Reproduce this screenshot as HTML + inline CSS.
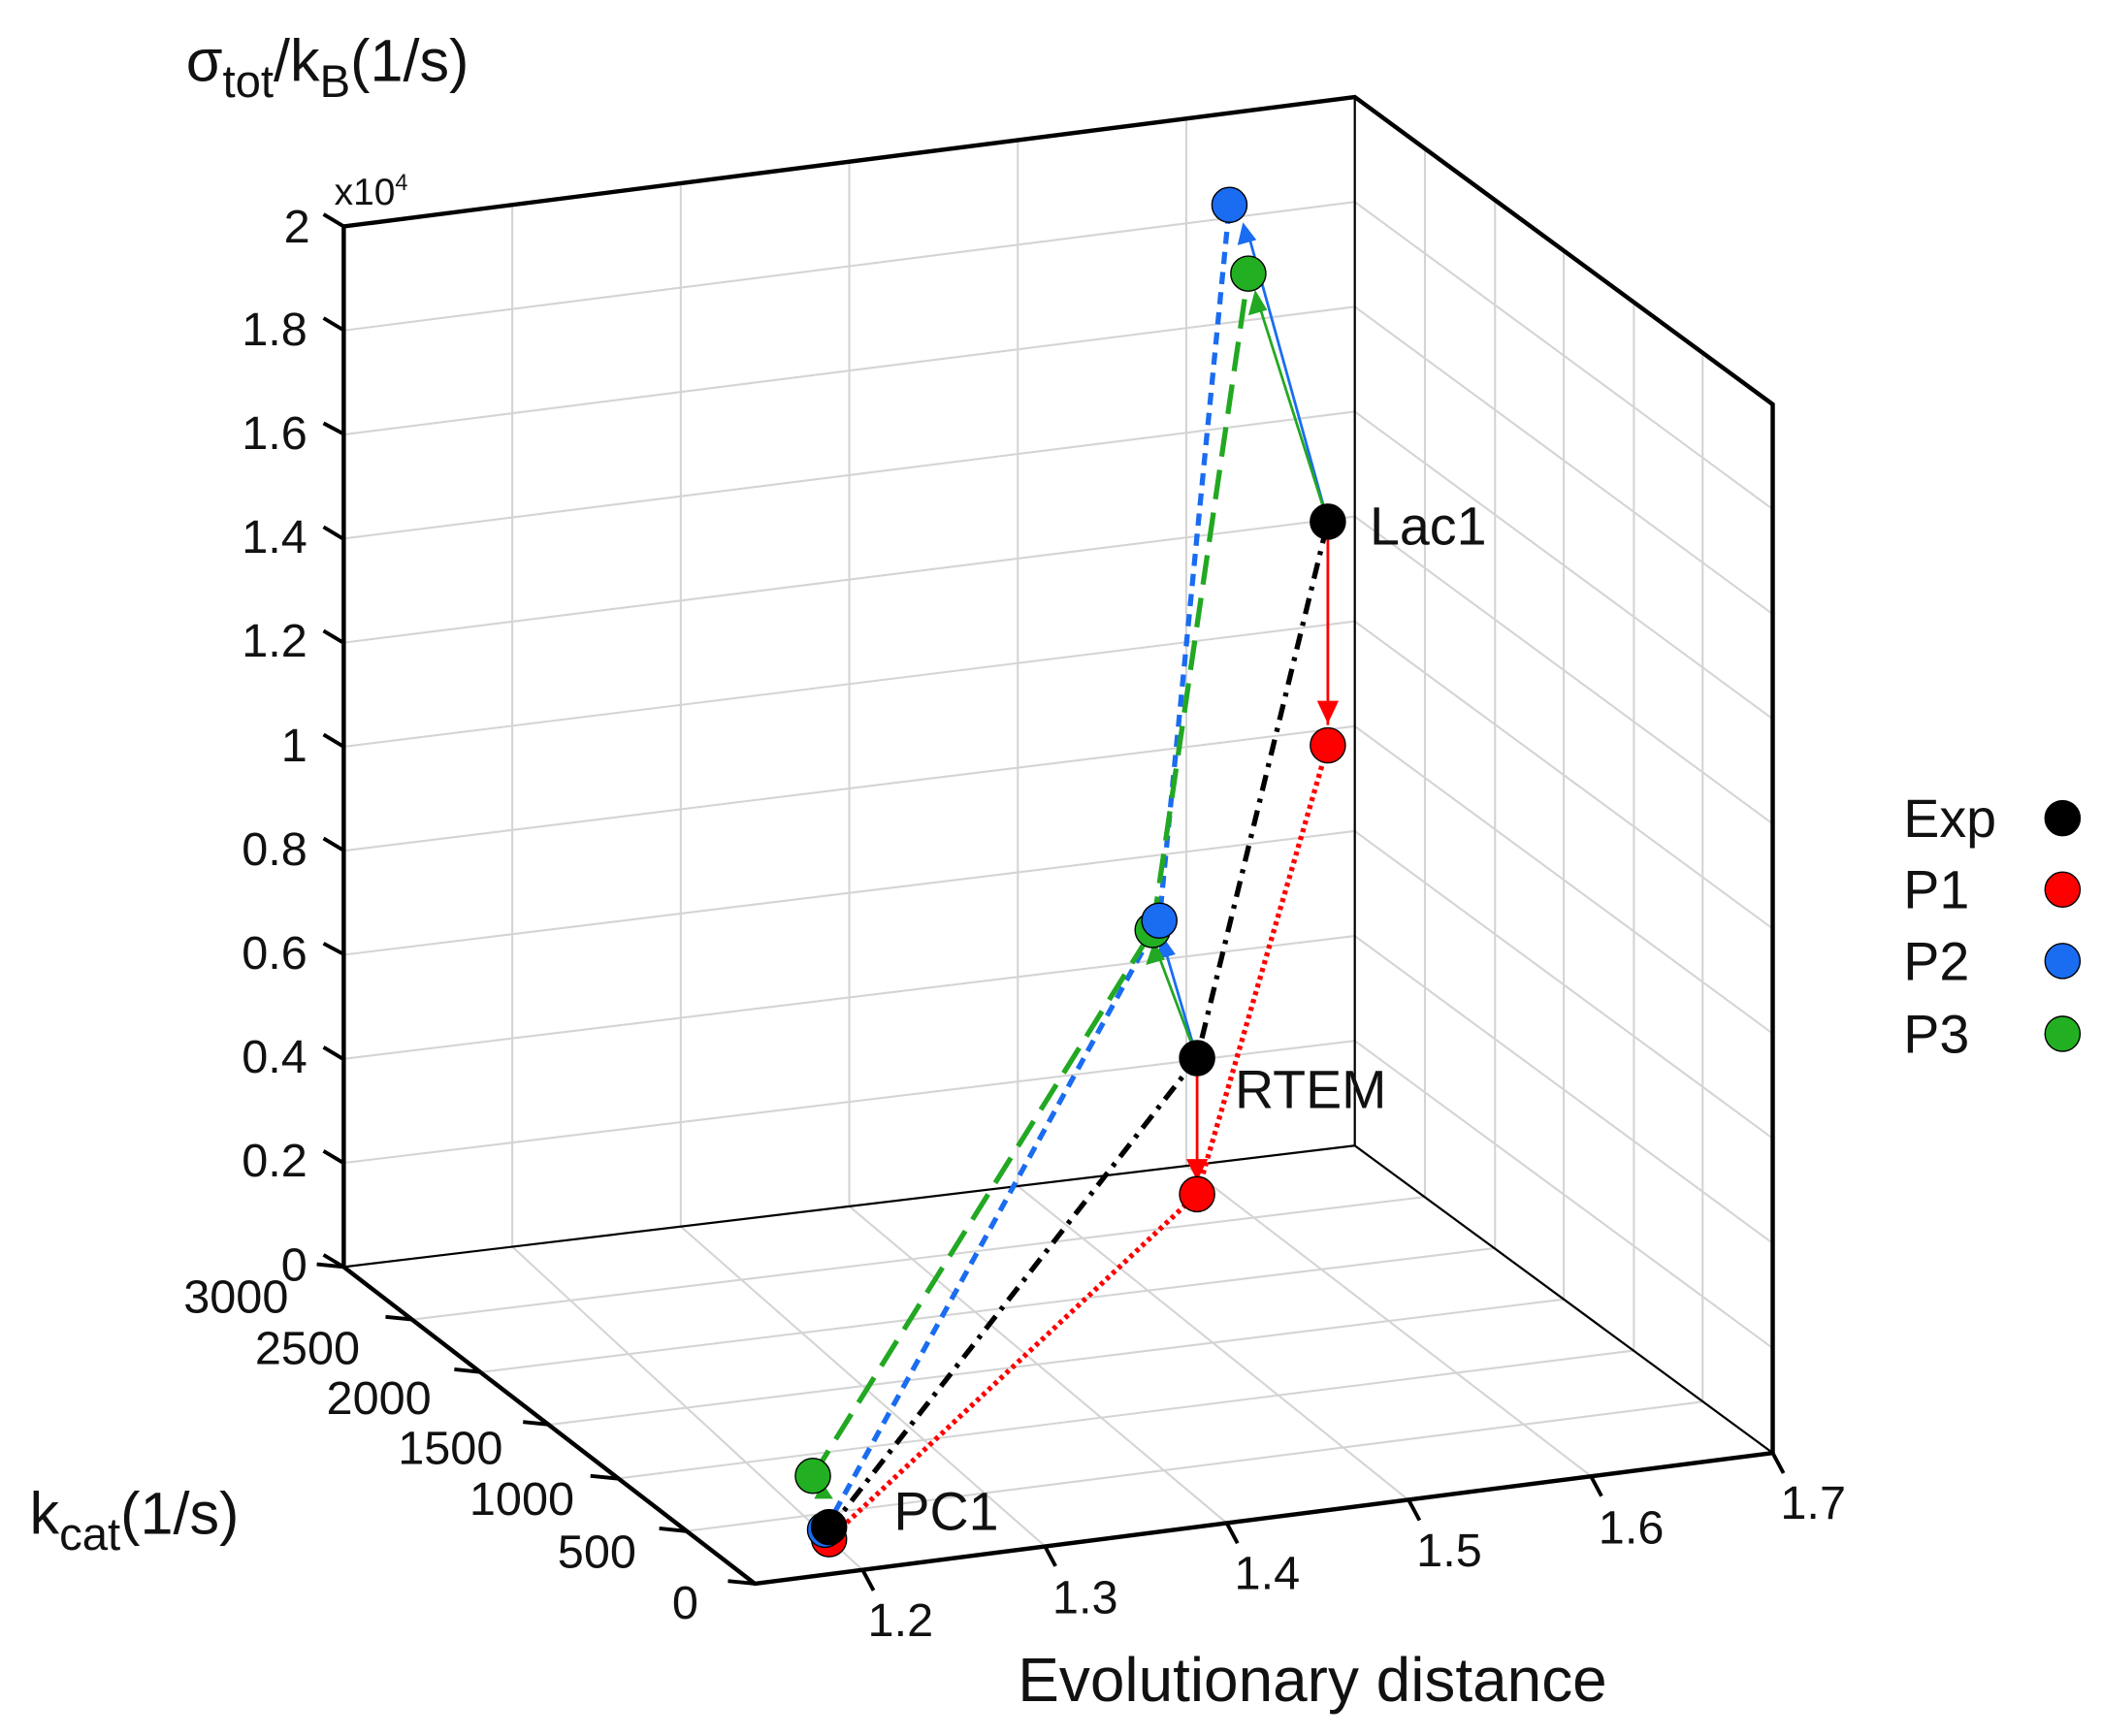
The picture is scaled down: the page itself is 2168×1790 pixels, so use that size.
<!DOCTYPE html>
<html><head><meta charset="utf-8"><style>html,body{margin:0;padding:0;background:#fff}svg{display:block}</style></head>
<body>
<svg width="2168" height="1790" viewBox="0 0 1560 1288" preserveAspectRatio="none" xmlns="http://www.w3.org/2000/svg" font-family="Liberation Sans, sans-serif">
<g stroke="#d4d4d4" stroke-width="1.5" fill="none">
<line x1="380" y1="925" x2="380" y2="152"/><line x1="505" y1="910" x2="505" y2="136"/><line x1="630" y1="895" x2="630" y2="120"/><line x1="755" y1="880" x2="755" y2="104"/><line x1="880" y1="865" x2="880" y2="88"/>
<line x1="255" y1="862.8" x2="1005" y2="772.2"/><line x1="255" y1="785.6" x2="1005" y2="694.4"/><line x1="255" y1="708.4" x2="1005" y2="616.6"/><line x1="255" y1="631.2" x2="1005" y2="538.8"/><line x1="255" y1="554" x2="1005" y2="461"/><line x1="255" y1="476.8" x2="1005" y2="383.2"/><line x1="255" y1="399.6" x2="1005" y2="305.4"/><line x1="255" y1="322.4" x2="1005" y2="227.6"/><line x1="255" y1="245.2" x2="1005" y2="149.8"/>
<line x1="1005" y1="772.2" x2="1315" y2="1000.2"/><line x1="1005" y1="694.4" x2="1315" y2="922.4"/><line x1="1005" y1="616.6" x2="1315" y2="844.6"/><line x1="1005" y1="538.8" x2="1315" y2="766.8"/><line x1="1005" y1="461" x2="1315" y2="689"/><line x1="1005" y1="383.2" x2="1315" y2="611.2"/><line x1="1005" y1="305.4" x2="1315" y2="533.4"/><line x1="1005" y1="227.6" x2="1315" y2="455.6"/><line x1="1005" y1="149.8" x2="1315" y2="377.8"/>
<line x1="1057" y1="888" x2="1057" y2="110"/><line x1="1109" y1="926" x2="1109" y2="148"/><line x1="1160" y1="964" x2="1160" y2="186"/><line x1="1212" y1="1002" x2="1212" y2="224"/><line x1="1263" y1="1040" x2="1263" y2="262"/>
<line x1="509" y1="1136" x2="1263" y2="1040"/><line x1="458" y1="1097" x2="1212" y2="1002"/><line x1="408" y1="1057" x2="1160" y2="964"/><line x1="357" y1="1018" x2="1109" y2="926"/><line x1="306" y1="979" x2="1057" y2="888"/>
<line x1="640" y1="1165" x2="380" y2="925"/><line x1="775" y1="1147" x2="505" y2="910"/><line x1="910" y1="1130" x2="630" y2="895"/><line x1="1045" y1="1113" x2="755" y2="880"/><line x1="1180" y1="1095" x2="880" y2="865"/>
</g>
<g stroke="#000" stroke-width="3.2" fill="none">
<polyline points="255,940 255,168 1005,72 1315,300 1315,1078 560,1175 255,940"/>
<line x1="1005" y1="72" x2="1005" y2="850" stroke-width="1.6"/>
<line x1="255" y1="940" x2="1005" y2="850" stroke-width="1.6"/>
<line x1="1005" y1="850" x2="1315" y2="1078" stroke-width="1.6"/>
</g>
<g stroke="#000" stroke-width="2.8">
<line x1="240" y1="931" x2="255" y2="940"/><line x1="240" y1="854" x2="255" y2="863"/><line x1="240" y1="777" x2="255" y2="786"/><line x1="240" y1="700" x2="255" y2="708"/><line x1="240" y1="622" x2="255" y2="631"/><line x1="240" y1="545" x2="255" y2="554"/><line x1="240" y1="468" x2="255" y2="477"/><line x1="240" y1="391" x2="255" y2="400"/><line x1="240" y1="314" x2="255" y2="322"/><line x1="240" y1="236" x2="255" y2="245"/><line x1="240" y1="159" x2="255" y2="168"/>
<line x1="540" y1="1173" x2="560" y2="1175"/><line x1="489" y1="1134" x2="509" y2="1136"/><line x1="438" y1="1095" x2="458" y2="1097"/><line x1="388" y1="1055" x2="408" y2="1057"/><line x1="337" y1="1016" x2="357" y2="1018"/><line x1="286" y1="977" x2="306" y2="979"/><line x1="235" y1="938" x2="255" y2="940"/>
<line x1="640" y1="1165" x2="648" y2="1180"/><line x1="775" y1="1147" x2="783" y2="1162"/><line x1="910" y1="1130" x2="918" y2="1145"/><line x1="1045" y1="1113" x2="1053" y2="1128"/><line x1="1180" y1="1095" x2="1188" y2="1110"/><line x1="1315" y1="1078" x2="1323" y2="1093"/>
</g>
<g font-size="35" fill="#111" text-anchor="end">
<text x="230" y="180">2</text><text x="228" y="256">1.8</text><text x="228" y="333">1.6</text><text x="228" y="410">1.4</text><text x="228" y="487">1.2</text><text x="228" y="565">1</text><text x="228" y="642">0.8</text><text x="228" y="719">0.6</text><text x="228" y="796">0.4</text><text x="228" y="873">0.2</text><text x="228" y="950">0</text>
<text x="214" y="974">3000</text><text x="267" y="1012">2500</text><text x="320" y="1049">2000</text><text x="373" y="1086">1500</text><text x="426" y="1124">1000</text><text x="472" y="1163">500</text><text x="518" y="1201">0</text>
</g>
<g font-size="35" fill="#111" text-anchor="middle">
<text x="668" y="1214">1.2</text><text x="805" y="1197">1.3</text><text x="940" y="1179">1.4</text><text x="1075" y="1162">1.5</text><text x="1210" y="1145">1.6</text><text x="1345" y="1127">1.7</text>
</g>
<text x="248" y="152" font-size="28" fill="#111">x10<tspan font-size="17" dy="-11">4</tspan></text>
<text x="138" y="60" font-size="44" fill="#111">σ<tspan font-size="34" dy="12">tot</tspan><tspan dy="-12">/k</tspan><tspan font-size="34" dy="12">B</tspan><tspan dy="-12">(1/s)</tspan></text>
<text x="22" y="1138" font-size="44" fill="#111">k<tspan font-size="34" dy="12">cat</tspan><tspan dy="-12">(1/s)</tspan></text>
<text x="755" y="1262" font-size="46" fill="#111">Evolutionary distance</text>
<g fill="none" stroke-width="3.8">
<polyline points="615,1135 888,785 985,387" stroke="#000" stroke-dasharray="12,6,3,6"/>
<polyline points="615,1142 888,886 985,553" stroke="#f00" stroke-dasharray="3,3"/>
<polyline points="612,1135 860,683 912,152" stroke="#1a6cf0" stroke-dasharray="9,6"/>
<polyline points="603,1095 855,690 926,203" stroke="#22a822" stroke-dasharray="22,10"/>
</g>
<g stroke-width="2" fill="none">
<line x1="888" y1="785" x2="888" y2="872" stroke="#f00"/><line x1="985" y1="387" x2="985" y2="538" stroke="#f00"/>
<line x1="888" y1="785" x2="863" y2="700" stroke="#1a6cf0"/><line x1="888" y1="785" x2="858" y2="705" stroke="#22a822"/>
<line x1="985" y1="387" x2="925" y2="170" stroke="#1a6cf0"/><line x1="985" y1="387" x2="932" y2="220" stroke="#22a822"/>
</g>
<g>
<polygon points="880,860 896,860 888,876" fill="#f00"/><polygon points="977,520 993,520 985,537" fill="#f00"/>
<polygon points="858,712 872,708 862,694" fill="#1a6cf0"/><polygon points="850,716 864,712 856,698" fill="#22a822"/>
<polygon points="918,182 932,178 922,165" fill="#1a6cf0"/><polygon points="926,234 940,230 931,215" fill="#22a822"/>
<polygon points="604,1112 618,1112 610,1100" fill="#22a822"/>
</g>
<g stroke="#000" stroke-width="1">
<circle cx="603" cy="1095" r="13" fill="#22b022"/>
<circle cx="615" cy="1142" r="13" fill="#f00"/>
<circle cx="612" cy="1135" r="13" fill="#1a6cf0"/>
<circle cx="615" cy="1133" r="13" fill="#000"/>
<circle cx="888" cy="886" r="13" fill="#f00"/>
<circle cx="855" cy="690" r="13" fill="#22b022"/>
<circle cx="860" cy="683" r="13" fill="#1a6cf0"/>
<circle cx="888" cy="785" r="13" fill="#000"/>
<circle cx="985" cy="553" r="13" fill="#f00"/>
<circle cx="926" cy="203" r="13" fill="#22b022"/>
<circle cx="912" cy="152" r="13" fill="#1a6cf0"/>
<circle cx="985" cy="387" r="13" fill="#000"/>
</g>
<g font-size="40" fill="#111">
<text x="1016" y="404">Lac1</text><text x="916" y="822">RTEM</text><text x="663" y="1135">PC1</text>
<text x="1412" y="621">Exp</text><text x="1412" y="674">P1</text><text x="1412" y="727">P2</text><text x="1412" y="781">P3</text>
</g>
<g stroke="#000" stroke-width="1">
<circle cx="1530" cy="607" r="13" fill="#000"/><circle cx="1530" cy="660" r="13" fill="#f00"/><circle cx="1530" cy="713" r="13" fill="#1a6cf0"/><circle cx="1530" cy="767" r="13" fill="#22b022"/>
</g>
</svg>
</body></html>
